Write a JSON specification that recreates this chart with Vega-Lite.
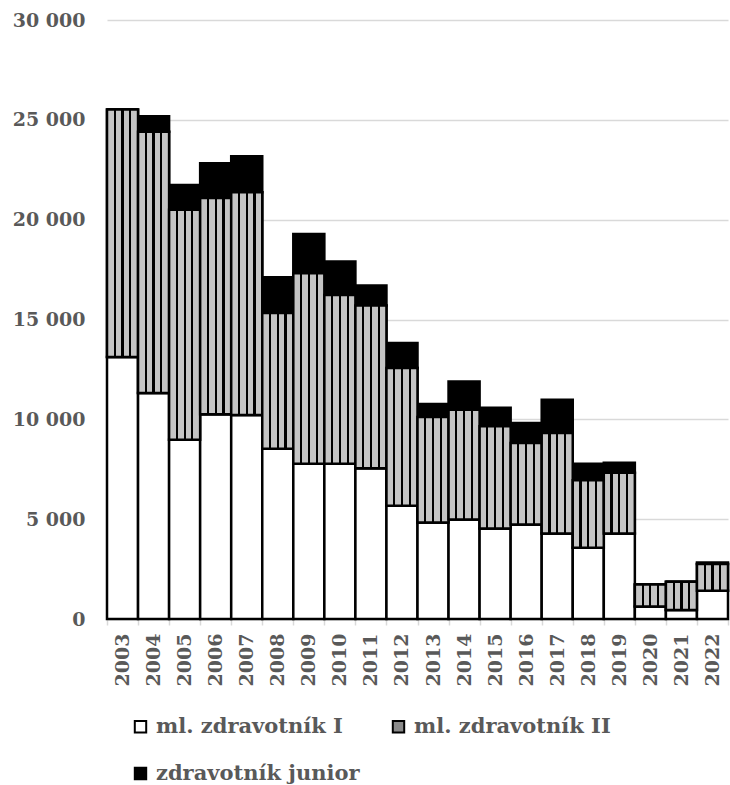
{
  "$schema": "https://vega.github.io/schema/vega-lite/v6.json",
  "autosize": "none",
  "width": 621,
  "height": 599,
  "padding": {"left": 107, "top": 20, "right": 2, "bottom": 166},
  "background": "white",
  "config": {
    "font": "DejaVu Serif",
    "view": {"stroke": null}
  },
  "data": {
    "values": [
      {"year": "2003", "series": "ml. zdravotník I", "value": 13120},
      {"year": "2003", "series": "ml. zdravotník II", "value": 12400},
      {"year": "2003", "series": "zdravotník junior", "value": 0},
      {"year": "2004", "series": "ml. zdravotník I", "value": 11320},
      {"year": "2004", "series": "ml. zdravotník II", "value": 13080},
      {"year": "2004", "series": "zdravotník junior", "value": 780},
      {"year": "2005", "series": "ml. zdravotník I", "value": 8980},
      {"year": "2005", "series": "ml. zdravotník II", "value": 11520},
      {"year": "2005", "series": "zdravotník junior", "value": 1230},
      {"year": "2006", "series": "ml. zdravotník I", "value": 10250},
      {"year": "2006", "series": "ml. zdravotník II", "value": 10830},
      {"year": "2006", "series": "zdravotník junior", "value": 1740},
      {"year": "2007", "series": "ml. zdravotník I", "value": 10220},
      {"year": "2007", "series": "ml. zdravotník II", "value": 11150},
      {"year": "2007", "series": "zdravotník junior", "value": 1810},
      {"year": "2008", "series": "ml. zdravotník I", "value": 8530},
      {"year": "2008", "series": "ml. zdravotník II", "value": 6790},
      {"year": "2008", "series": "zdravotník junior", "value": 1800},
      {"year": "2009", "series": "ml. zdravotník I", "value": 7780},
      {"year": "2009", "series": "ml. zdravotník II", "value": 9540},
      {"year": "2009", "series": "zdravotník junior", "value": 1960},
      {"year": "2010", "series": "ml. zdravotník I", "value": 7780},
      {"year": "2010", "series": "ml. zdravotník II", "value": 8450},
      {"year": "2010", "series": "zdravotník junior", "value": 1670},
      {"year": "2011", "series": "ml. zdravotník I", "value": 7550},
      {"year": "2011", "series": "ml. zdravotník II", "value": 8150},
      {"year": "2011", "series": "zdravotník junior", "value": 1000},
      {"year": "2012", "series": "ml. zdravotník I", "value": 5670},
      {"year": "2012", "series": "ml. zdravotník II", "value": 6900},
      {"year": "2012", "series": "zdravotník junior", "value": 1250},
      {"year": "2013", "series": "ml. zdravotník I", "value": 4830},
      {"year": "2013", "series": "ml. zdravotník II", "value": 5290},
      {"year": "2013", "series": "zdravotník junior", "value": 650},
      {"year": "2014", "series": "ml. zdravotník I", "value": 4980},
      {"year": "2014", "series": "ml. zdravotník II", "value": 5500},
      {"year": "2014", "series": "zdravotník junior", "value": 1420},
      {"year": "2015", "series": "ml. zdravotník I", "value": 4530},
      {"year": "2015", "series": "ml. zdravotník II", "value": 5120},
      {"year": "2015", "series": "zdravotník junior", "value": 930},
      {"year": "2016", "series": "ml. zdravotník I", "value": 4730},
      {"year": "2016", "series": "ml. zdravotník II", "value": 4090},
      {"year": "2016", "series": "zdravotník junior", "value": 1000},
      {"year": "2017", "series": "ml. zdravotník I", "value": 4280},
      {"year": "2017", "series": "ml. zdravotník II", "value": 5040},
      {"year": "2017", "series": "zdravotník junior", "value": 1660},
      {"year": "2018", "series": "ml. zdravotník I", "value": 3570},
      {"year": "2018", "series": "ml. zdravotník II", "value": 3380},
      {"year": "2018", "series": "zdravotník junior", "value": 830},
      {"year": "2019", "series": "ml. zdravotník I", "value": 4280},
      {"year": "2019", "series": "ml. zdravotník II", "value": 3050},
      {"year": "2019", "series": "zdravotník junior", "value": 500},
      {"year": "2020", "series": "ml. zdravotník I", "value": 620},
      {"year": "2020", "series": "ml. zdravotník II", "value": 1110},
      {"year": "2020", "series": "zdravotník junior", "value": 0},
      {"year": "2021", "series": "ml. zdravotník I", "value": 450},
      {"year": "2021", "series": "ml. zdravotník II", "value": 1420},
      {"year": "2021", "series": "zdravotník junior", "value": 0},
      {"year": "2022", "series": "ml. zdravotník I", "value": 1420},
      {"year": "2022", "series": "ml. zdravotník II", "value": 1330},
      {"year": "2022", "series": "zdravotník junior", "value": 80}
    ]
  },
  "transform": [
    {"stack": "value", "groupby": ["year"], "sort": [{"field": "series", "order": "ascending"}], "as": ["v0", "v1"]}
  ],
  "encoding": {
    "x": {
      "field": "year",
      "type": "nominal",
      "scale": {"paddingInner": 0, "paddingOuter": 0},
      "axis": {
        "title": null,
        "labelAngle": -90,
        "labelFont": "DejaVu Serif",
        "labelFontWeight": "bold",
        "labelFontSize": 19,
        "labelColor": "#595959",
        "labelPadding": 8,
        "tickBand": "extent",
        "ticks": true,
        "tickColor": "#d9d9d9",
        "tickSize": 6,
        "tickWidth": 1.5,
        "domain": true,
        "domainColor": "#d9d9d9",
        "domainWidth": 1.5,
        "grid": false
      }
    },
    "y": {
      "field": "v1",
      "type": "quantitative",
      "scale": {"domain": [0, 30000], "nice": false},
      "axis": {
        "title": null,
        "values": [0, 5000, 10000, 15000, 20000, 25000, 30000],
        "labelExpr": "replace(format(datum.value, ','), ',', ' ')",
        "labelFont": "DejaVu Serif",
        "labelFontWeight": "bold",
        "labelFontSize": 19,
        "labelColor": "#595959",
        "labelPadding": 22,
        "ticks": false,
        "domain": false,
        "grid": true,
        "gridColor": "#d9d9d9",
        "gridWidth": 1.5
      }
    },
    "y2": {"field": "v0"}
  },
  "layer": [
    {
      "mark": {"type": "bar", "stroke": "black", "strokeWidth": 2.5, "strokeJoin": "miter"},
      "encoding": {
        "color": {
          "field": "series",
          "type": "nominal",
          "scale": {
            "domain": ["ml. zdravotník I", "ml. zdravotník II", "zdravotník junior"],
            "range": ["#ffffff", "#8a8a8a", "#000000"]
          },
          "legend": {
            "title": null,
            "orient": "none",
            "legendX": 23,
            "legendY": 696,
            "direction": "horizontal",
            "columns": 2,
            "columnPadding": 28,
            "rowPadding": 25,
            "symbolType": "square",
            "symbolSize": 130,
            "symbolStrokeColor": "black",
            "symbolStrokeWidth": 2,
            "symbolOpacity": 1,
            "labelFont": "DejaVu Serif",
            "labelFontWeight": "bold",
            "labelFontSize": 21,
            "labelColor": "#595959",
            "labelOffset": 5,
            "labelLimit": 400
          }
        }
      }
    },
    {
      "transform": [{"filter": "datum.series === 'ml. zdravotník II'"}],
      "mark": {
        "type": "bar",
        "stroke": "black",
        "strokeWidth": 2.5,
        "strokeJoin": "miter",
        "fill": {
          "gradient": "linear",
          "x1": 0, "y1": 0, "x2": 1, "y2": 0,
          "stops": [
            {"offset": 0, "color": "#c4c4c4"},
            {"offset": 0.215, "color": "#c4c4c4"},
            {"offset": 0.215, "color": "#000000"},
            {"offset": 0.285, "color": "#000000"},
            {"offset": 0.285, "color": "#c4c4c4"},
            {"offset": 0.465, "color": "#c4c4c4"},
            {"offset": 0.465, "color": "#000000"},
            {"offset": 0.535, "color": "#000000"},
            {"offset": 0.535, "color": "#c4c4c4"},
            {"offset": 0.715, "color": "#c4c4c4"},
            {"offset": 0.715, "color": "#000000"},
            {"offset": 0.785, "color": "#000000"},
            {"offset": 0.785, "color": "#c4c4c4"},
            {"offset": 1, "color": "#c4c4c4"}
          ]
        }
      }
    }
  ]
}
